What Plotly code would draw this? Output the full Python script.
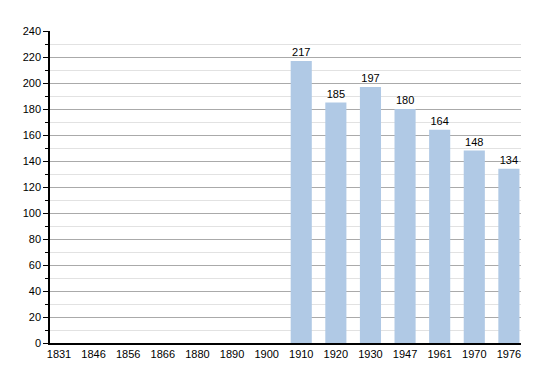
import plotly.graph_objects as go

years = ["1831", "1846", "1856", "1866", "1880", "1890", "1900",
         "1910", "1920", "1930", "1947", "1961", "1970", "1976"]
population = [None, None, None, None, None, None, None,
              217, 185, 197, 180, 164, 148, 134]
labels = ["" if v is None else str(v) for v in population]

fig = go.Figure()
fig.add_trace(go.Bar(
    x=list(range(len(years))), y=population,
    text=labels, textposition="outside", cliponaxis=False,
    textfont=dict(size=11, color="#000000", family="Liberation Sans, Arial, sans-serif"),
    marker=dict(color="#b0c9e5", line=dict(width=0)),
    width=0.61,
))
fig.update_layout(
    width=550, height=373,
    margin=dict(l=50, r=29, t=31, b=30),
    plot_bgcolor="white", paper_bgcolor="white",
    showlegend=False,
    font=dict(family="Liberation Sans, Arial, sans-serif", size=11, color="#000000"),
    xaxis=dict(
        tickmode="array", tickvals=list(range(len(years))), ticktext=years,
        range=[-0.26, 13.35], showgrid=False, showline=True,
        linecolor="#000000", linewidth=1.5, ticks="", zeroline=False,
        tickfont=dict(size=11),
    ),
    yaxis=dict(
        range=[0, 240], dtick=20, showgrid=True, gridcolor="#aaaaaa", gridwidth=1,
        showline=True, linecolor="#000000", linewidth=1.5,
        ticks="outside", ticklen=5, tickcolor="#000000", zeroline=False,
        minor=dict(dtick=10, showgrid=True, gridcolor="#e2e2e2", ticks="outside",
                   ticklen=3, tickcolor="#000000"),
        tickfont=dict(size=11),
    ),
    bargap=0.4,
)
fig.write_html("out.html")
